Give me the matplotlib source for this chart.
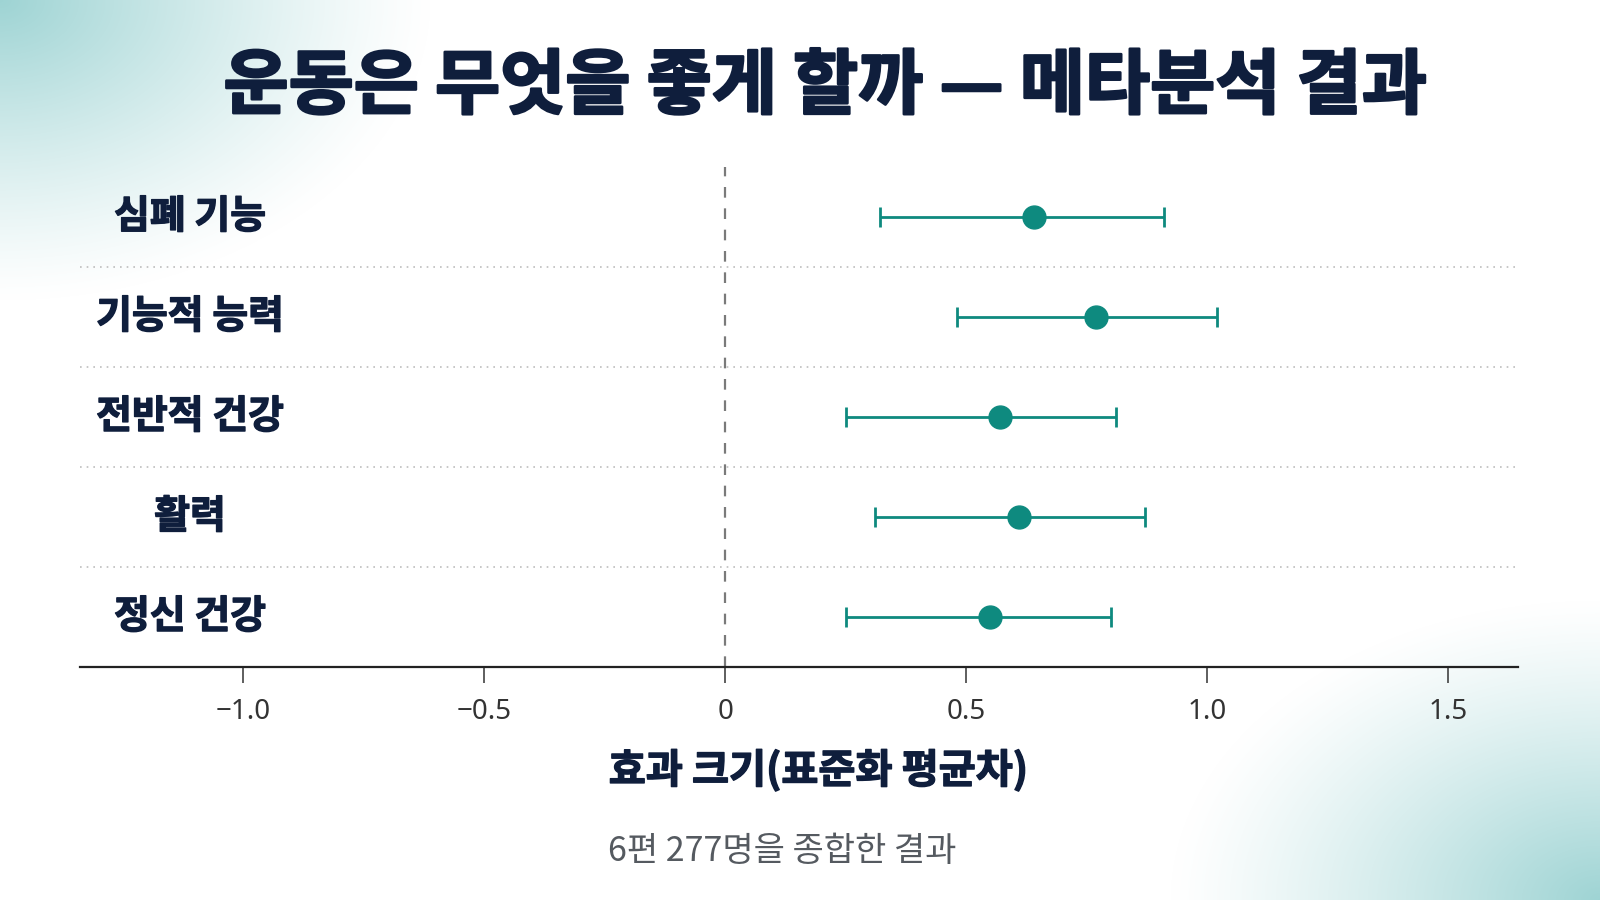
import numpy as np
import matplotlib
matplotlib.use("Agg")
import matplotlib.pyplot as plt
import matplotlib.transforms as mtransforms
import matplotlib.patheffects as pe

plt.rcParams['font.family'] = ['Noto Sans CJK KR', 'DejaVu Sans']

# ---- data ----
categories = ["심폐 기능", "기능적 능력", "전반적 건강", "활력", "정신 건강"]
effect = [0.64, 0.77, 0.57, 0.61, 0.55]
ci_low = [0.32, 0.48, 0.25, 0.31, 0.25]
ci_high = [0.91, 1.02, 0.81, 0.87, 0.80]
xticks = [-1.0, -0.5, 0.0, 0.5, 1.0, 1.5]
xtick_labels = ["\u22121.0", "\u22120.5", "0", "0.5", "1.0", "1.5"]
title = "운동은 무엇을 좋게 할까 — 메타분석 결과"
xlabel = "효과 크기(표준화 평균차)"
footnote = "6편 277명을 종합한 결과"

NAVY = "#0f1e3c"
TEAL = "#0e8a7f"

W, H = 1600, 900
fig = plt.figure(figsize=(16, 9), dpi=100)
fig.patch.set_facecolor("white")

# ---- background gradient corners ----
bg = fig.add_axes([0, 0, 1, 1], zorder=-10)
yy, xx = np.mgrid[0:H, 0:W]
d1 = np.sqrt((xx / 430.0) ** 2 + (yy / 300.0) ** 2)
d2 = np.sqrt(((W - xx) / 430.0) ** 2 + ((H - yy) / 300.0) ** 2)
a = np.clip(1 - d1, 0, 1) ** 1.2 + np.clip(1 - d2, 0, 1) ** 1.2
a = np.clip(a, 0, 1)
teal = np.array([0.62, 0.83, 0.83])
img = np.ones((H, W, 3)) * (1 - a[..., None]) + teal * a[..., None]
bg.imshow(img, aspect="auto", extent=[0, 1, 0, 1], origin="upper")
bg.axis("off")

# ---- main axes ----
ax = fig.add_axes([0.04975, 0.2592, 0.899, 0.5556])
ax.set_facecolor("none")
y = np.arange(len(categories))
eff = np.array(effect)
lo = eff - np.array(ci_low)
hi = np.array(ci_high) - eff
ax.errorbar(eff, y, xerr=[lo, hi], fmt="o", color=TEAL, ecolor=TEAL,
            elinewidth=2.0, capsize=7.5, capthick=2.0, markersize=16.5,
            zorder=5)
ax.axvline(0, color="#7a7a7a", lw=1.6, linestyle=(0, (4.8, 4.8)), zorder=2)
for sep in np.arange(0.5, len(categories) - 0.5, 1.0):
    ax.axhline(sep, color="#bdbdbd", lw=1.2, linestyle=(0, (1, 3)), zorder=1)

ax.set_xlim(-1.34, 1.645)
ax.set_ylim(len(categories) - 0.5, -0.5)
ax.set_yticks([])
ax.set_xticks(xticks)
ax.set_xticklabels(xtick_labels, fontfamily="Noto Sans", fontsize=20, color="#333333")
ax.tick_params(axis="x", length=11.5, width=1.1, color="#333333", pad=11)
for s in ["top", "left", "right"]:
    ax.spines[s].set_visible(False)
ax.spines["bottom"].set_linewidth(1.6)
ax.spines["bottom"].set_color("#222222")

heavy_s = [pe.withStroke(linewidth=1.0, foreground=NAVY)]
heavy_l = [pe.withStroke(linewidth=1.8, foreground=NAVY)]

# category labels
trans = mtransforms.blended_transform_factory(fig.transFigure, ax.transData)
for i, c in enumerate(categories):
    ax.text(190 / W, i, c, transform=trans, ha="center", va="center",
            fontsize=28, fontweight="bold", color=NAVY, path_effects=heavy_s)

fig.text(825 / W, 1 - 87 / H, title, ha="center", va="center",
         fontsize=51, fontweight="bold", color=NAVY, path_effects=heavy_l)
fig.text(818 / W, 1 - 771 / H, xlabel, ha="center", va="center",
         fontsize=29, fontweight="bold", color=NAVY, path_effects=heavy_s)
fig.text(782 / W, 1 - 852 / H, footnote, ha="center", va="center",
         fontsize=24.5, color="#555a60")

fig.savefig("out.png", dpi=100)
